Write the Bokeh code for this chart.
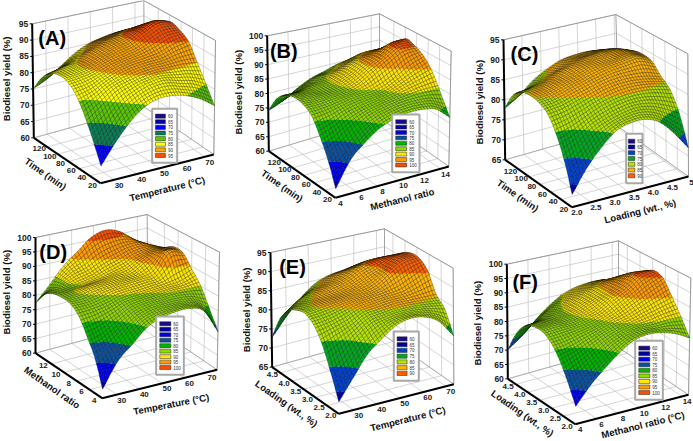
import numpy as np
from bokeh.plotting import figure
from bokeh.models import ColumnDataSource
from bokeh.core.properties import value
from bokeh.embed import file_html
from bokeh.resources import INLINE

# ---- values: yield (%) on a grid, rows = y axis (front to back), cols = x axis (front to back)
Z_A = [[65,71,76,79.5,81,81,80,78,75],
       [71,75,79.5,82,83.5,84,83,82,80],
       [76.5,79.5,82.5,84,85,85.5,85.5,85.5,85],
       [81,82,84,85.5,86.5,87,87.5,89,90],
       [83.5,84,85,86.5,87.5,88.5,90.3,92,92],
       [84,84.5,85.5,87,88.5,89.7,92,94,93],
       [83,84,85,87,88.5,89.8,91,92,91],
       [80,81,83,85,87,88,89,89,88],
       [75,77,80,83,85,86,86.5,86,84]]
Z_B = [[63,71,75.5,79,81,82,82,81,77],
       [70.5,74,78,81,82.5,83.5,84,84,83],
       [76.5,78.5,81,82.5,83.5,84.5,86,87.5,89],
       [81.5,82,83,84,84.5,85.5,88,91,93],
       [83.5,83.5,84,84.5,86,89,92,95,95],
       [84,84,84,85,87,90,92.5,95.5,96],
       [83,83,84,85,87,89.5,91,92,92],
       [80,80,82,84,85,87,89,89,88],
       [74,76,79,81.5,83,84.5,85,85,83]]
Z_C = [[68,73.5,77.5,80.5,81.5,81.5,80,76.5,72],
       [74.5,77,80,81.5,82.5,83,82.5,81,79],
       [79.5,80.5,82,83.5,84.5,85,85,84.5,83.5],
       [83,83.5,84.5,85.5,86.5,87,87,86.5,85.5],
       [84.5,85,86,87,88,88.8,89.2,89.6,88],
       [85,85.5,86.5,87.5,88.8,89.2,89.6,89.7,88.5],
       [84.5,85,86,87.5,88.5,89.3,89.6,89.4,88],
       [82.5,83,84.5,86,87.5,88,88.5,88,86],
       [77.75,80,83,85,86.5,87,87,86,83]]
Z_D = [[63,71,75.5,80,82,83,83,81,73],
       [71,74,78,81.5,83,83.5,83.5,82.5,79],
       [76.5,78,80.5,83,84,84.5,85,85,85],
       [81.5,82,83,84.5,85,85.5,86,87,89],
       [84,84,85,86,86.5,87,88,94,93],
       [84.5,85,86,86.5,87,87.5,90.5,93,93.5],
       [84,84.5,85,86,87.5,89,91,92,91.5],
       [82,84,86.5,88,90.5,92,93,92.5,90],
       [77.3,82.5,88,92,96,97.5,96,92,87]]
Z_E = [[68,73,78,81,83.5,84.5,84,82,77.5],
       [74,77,80.5,83,84,84.5,84.5,84,83],
       [79.5,81,82.5,84.5,85,85.5,85.5,85.5,85.5],
       [83,83.5,84.5,85.5,86,86.5,87,88.5,90.5],
       [84.5,85,85.5,86,86.5,87.5,90,92,92.5],
       [84,85,85.5,86,87,88.5,90,92,92.5],
       [82.5,84,85.5,86.5,87.5,89.5,90.5,91,91],
       [79,82,84,85.5,87,88,89,89,88],
       [72.6,77,81,84,85.5,86,86.5,86,84]]
Z_F = [[65.8,71.5,76,80,83,84,83.5,82,79.5],
       [72,75,78.5,81.5,83.5,84.5,84.5,85,85],
       [77.5,79,81,83,84.5,85.5,87,88.5,90],
       [81.5,82,83,84,85.5,87.5,90,92.5,94.8],
       [83.5,84,84,85,86.5,89.5,92,95.5,96],
       [83.5,84,84.5,85.5,87.5,89.5,92,94.5,94],
       [82,82.5,84,85.5,87.5,89.5,91,92,91],
       [77.5,79,82,84.5,86.5,88,89,89,88],
       [70,73.5,78,82,85,86.5,87,86.5,84]]

TEMP_TICKS = ["30", "40", "50", "60", "70"]
TIME_TICKS = ["20", "40", "60", "80", "100", "120"]
RATIO_TICKS = ["4", "6", "8", "10", "12", "14"]
RATIO_TICKS_Y = ["4", "6", "8", "10", "12"]
LOAD_TICKS_X = ["2.0", "2.5", "3.0", "3.5", "4.0", "4.5", "5"]
LOAD_TICKS_Y = ["2.0", "2.5", "3.0", "3.5", "4.0", "4.5"]
LEG_8 = ["60", "65", "70", "75", "80", "85", "90", "95"]
LEG_9 = ["60", "65", "70", "75", "80", "85", "90", "95", "100"]
LEG_7 = ["60", "65", "70", "75", "80", "85", "90"]
COL_A = ["#1a0a8c", "#00009e", "#0000ff", "#0b7d55", "#58c800", "#ffff00", "#ffa800", "#f85000"]
COL_B = ["#1a0a8c", "#00009e", "#0000f0", "#0a50a0", "#00b400", "#90d800", "#ffe800", "#ff9c00", "#f85000"]
COL_C = ["#1a0a8c", "#0000a8", "#0040d0", "#00a820", "#b4e400", "#ffb400", "#ff6000"]

TITLE_Z = "Biodiesel yield (%)"

# ---- layout, in pixels of the zoomed (3x) panel, offset by the panel's origin
PANELS = [
 dict(name="(A)", off=(0,0), O=(300,548), X=(640,462), Y=(100,412), Xt=(645,120), Yt=(95,70), Bt=(430,0),
      zr=(60,95), zticks=[60,65,70,75,80,85,90,95], Z=Z_A, xr=(24,74), xt=[30,40,50,60,70], xl=TEMP_TICKS,
      yr=(20,145), yt=[20,40,60,80,100,120], yl=TIME_TICKS, xtitle="Temperature (°C)", ytitle="Time (min)",
      xtp=(500,565,14), ytp=(135,520,-35), ztp=(17,235), letter=(155,112), leg=(455,325,530,487),
      labels=LEG_8, cols=COL_A, shift=1),
 dict(name="(B)", off=(230,0), O=(315,592), X=(655,498), Y=(115,452), Xt=(662,152), Yt=(110,106), Bt=(447,40),
      zr=(60,100), zticks=[60,65,70,75,80,85,90,95,100], Z=Z_B, xr=(4,14.8), xt=[4,6,8,10,12,14], xl=RATIO_TICKS,
      yr=(20,145), yt=[20,40,60,80,100,120], yl=TIME_TICKS, xtitle="Methanol ratio", ytitle="Time (min)",
      xtp=(515,596,14), ytp=(155,556,-35), ztp=(23,275), letter=(160,150), leg=(485,342,567,515),
      labels=LEG_9, cols=COL_B, shift=1),
 dict(name="(C)", off=(458,0), O=(340,620), X=(690,528), Y=(140,478), Xt=(688,160), Yt=(135,118), Bt=(472,42),
      zr=(65,95), zticks=[65,70,75,80,85,90,95], Z=Z_C, xr=(2,5.05), xt=[2,2.5,3,3.5,4,4.5,5], xl=LOAD_TICKS_X,
      yr=(20,145), yt=[20,40,60,80,100,120], yl=TIME_TICKS, xtitle="Loading (wt., %)", ytitle="Time (min)",
      xtp=(545,632,14), ytp=(178,585,-35), ztp=(62,305), letter=(198,160), leg=(503,400,552,548),
      labels=LEG_7, cols=COL_C, shift=0),
 dict(name="(D)", off=(0,221), O=(305,530), X=(650,445), Y=(105,395), Xt=(657,92), Yt=(105,48), Bt=(440,-21),
      zr=(60,100), zticks=[60,65,70,75,80,85,90,95,100], Z=Z_D, xr=(23.5,74.5), xt=[30,40,50,60,70], xl=TEMP_TICKS,
      yr=(4,14.5), yt=[4,6,8,10,12], yl=RATIO_TICKS_Y, xtitle="Temperature (°C)", ytitle="Methanol ratio",
      xtp=(512,548,11), ytp=(155,498,-35), ztp=(17,212), letter=(158,92), leg=(467,285,550,460),
      labels=LEG_9, cols=COL_B, shift=1),
 dict(name="(E)", off=(230,221), O=(325,577), X=(670,488), Y=(125,437), Xt=(668,140), Yt=(120,93), Bt=(462,22),
      zr=(65,95), zticks=[65,70,75,80,85,90,95], Z=Z_E, xr=(23.5,73.5), xt=[30,40,50,60,70], xl=TEMP_TICKS,
      yr=(2,4.85), yt=[2,2.5,3,3.5,4,4.5], yl=LOAD_TICKS_Y, xtitle="Temperature (°C)", ytitle="Loading (wt., %)",
      xtp=(532,592,14), ytp=(168,546,-35), ztp=(47,265), letter=(186,136), leg=(490,330,565,478),
      labels=LEG_7, cols=COL_C, shift=0),
 dict(name="(F)", off=(458,221), O=(350,608), X=(690,520), Y=(148,472), Xt=(697,170), Yt=(145,128), Bt=(480,58),
      zr=(60,100), zticks=[60,65,70,75,80,85,90,95,100], Z=Z_F, xr=(4,14.6), xt=[4,6,8,10,12,14], xl=RATIO_TICKS,
      yr=(2,4.85), yt=[2,2.5,3,3.5,4,4.5], yl=LOAD_TICKS_Y, xtitle="Methanol ratio (°C)", ytitle="Loading (wt., %)",
      xtp=(553,610,14), ytp=(192,575,-35), ztp=(58,305), letter=(200,182), leg=(530,358,613,535),
      labels=LEG_9, cols=COL_B, shift=1),
]

MESH = 40


def refine(arr, n):
    """Catmull-Rom resampling of the read grid along axis 0, for drawing the mesh."""
    a = np.asarray(arr, float)
    m = a.shape[0]
    t = np.linspace(0, m - 1, n)
    i = np.minimum(t.astype(int), m - 2)
    f = (t - i)[:, None]
    p1 = a[i]
    p2 = a[i + 1]
    p0 = np.where((i - 1 >= 0)[:, None], a[np.maximum(i - 1, 0)], 2 * a[0] - a[1])
    p3 = np.where((i + 2 < m)[:, None], a[np.minimum(i + 2, m - 1)], 2 * a[-1] - a[-2])
    return 0.5 * (2 * p1 + (p2 - p0) * f + (2 * p0 - 5 * p1 + 4 * p2 - p3) * f ** 2 + (3 * p1 - p0 - 3 * p2 + p3) * f ** 3)


def clip(poly, lo, hi):
    def cut(pts, keep, at):
        out = []
        for k in range(len(pts)):
            a, b = pts[k], pts[(k + 1) % len(pts)]
            ka, kb = keep(a[2]), keep(b[2])
            if ka:
                out.append(a)
            if ka != kb:
                s = (at - a[2]) / (b[2] - a[2])
                out.append((a[0] + s * (b[0] - a[0]), a[1] + s * (b[1] - a[1]), at))
        return out
    pts = cut(poly, lambda z: z >= lo, lo)
    if pts:
        pts = cut(pts, lambda z: z <= hi, hi)
    return pts


p = figure(width=693, height=441, x_range=(0, 693), y_range=(441, 0), toolbar_location=None,
           output_backend="svg", min_border=0, outline_line_color=None, background_fill_color="white")
p.axis.visible = False
p.grid.visible = False

gx, gy, gc, gw = [], [], [], []   # wall lines and axes
sf = dict(xs=[], ys=[], fc=[], fa=[], lc=[], la=[], lw=[])
lq = dict(xs=[], ys=[], fc=[], lc=[], lw=[])
texts = {}


def add_text(key, x, y, t, angle=0.0):
    d = texts.setdefault(key, dict(x=[], y=[], t=[], a=[]))
    d["x"].append(x); d["y"].append(y); d["t"].append(t); d["a"].append(np.deg2rad(angle))


for P in PANELS:
    off = np.array(P["off"], float)
    zp = lambda q: off + np.array(q, float) / 3
    O, X, Y, Xt, Yt, Bt = [zp(P[k]) for k in ("O", "X", "Y", "Xt", "Yt", "Bt")]
    B = X + Y - O + np.array([-8, -6]) / 3
    Ot = Xt + Yt - Bt

    def proj(u, v, w):
        u = np.asarray(u, float); v = np.asarray(v, float); w = np.asarray(w, float)
        base = lambda a, b, c, d, i: (a[i] * (1 - u) * (1 - v) + b[i] * u * (1 - v) + c[i] * (1 - u) * v + d[i] * u * v)
        bx, by = base(O, X, Y, B, 0), base(O, X, Y, B, 1)
        tx, ty = base(Ot, Xt, Yt, Bt, 0), base(Ot, Xt, Yt, Bt, 1)
        return bx + (tx - bx) * w, by + (ty - by) * w

    z0, z1 = P["zr"]
    W = lambda z: (np.asarray(z, float) - z0) / (z1 - z0)
    U = lambda t: (t - P["xr"][0]) / (P["xr"][1] - P["xr"][0])
    V = lambda t: (t - P["yr"][0]) / (P["yr"][1] - P["yr"][0])

    def line(a, b, c="#b9b9b9", w=0.6):
        x, y = proj(*a); x2, y2 = proj(*b)
        gx.append([float(x), float(x2)]); gy.append([float(y), float(y2)]); gc.append(c); gw.append(w)

    # walls and floor grid
    for z in P["zticks"]:
        line((0, 1, W(z)), (1, 1, W(z)))
        line((1, 0, W(z)), (1, 1, W(z)))
    for t in P["xt"]:
        u = U(t)
        line((u, 0, 0), (u, 1, 0))
        line((u, 1, 0), (u, 1, 1))
    for t in P["yt"]:
        v = V(t)
        line((0, v, 0), (1, v, 0))
        line((1, v, 0), (1, v, 1))
    line((0, 1, 1), (1, 1, 1), "#8c8c8c", 0.8)
    line((1, 0, 1), (1, 1, 1), "#8c8c8c", 0.8)
    line((1, 0, 0), (1, 0, 1), "#8c8c8c", 0.8)
    line((1, 1, 0), (1, 1, 1), "#8c8c8c", 0.8)
    line((0, 1, 0), (1, 1, 0), "#9c9c9c", 0.7)
    line((1, 0, 0), (1, 1, 0), "#9c9c9c", 0.7)

    # black axes with their ticks and labels
    line((0, 0, 0), (1, 0, 0), "#000000", 2)
    line((0, 0, 0), (0, 1, 0), "#000000", 2)
    line((0, 1, 0), (0, 1, 1), "#000000", 2)
    for z in P["zticks"]:
        x, y = proj(0, 1, W(z))
        gx.append([float(x) - 2.5, float(x)]); gy.append([float(y), float(y)]); gc.append("#000000"); gw.append(1)
        add_text("ztick", float(x) - 4, float(y), str(z))
    for t, s in zip(P["xt"], P["xl"]):
        x, y = proj(U(t), 0, 0)
        add_text("tick", float(x) + 5, float(y) + 5.5, s)
    for t, s in zip(P["yt"], P["yl"]):
        x, y = proj(0, V(t), 0)
        add_text("tick", float(x) - 8, float(y) + 2, s)

    # surface
    zf = refine(refine(np.array(P["Z"], float), MESH + 1).T, MESH + 1).T
    uu = np.linspace(0, 1, MESH + 1)
    vv = np.linspace(0, 1, MESH + 1)
    cells = sorted(((i, j) for i in range(MESH) for j in range(MESH)), key=lambda c: -(c[0] + c[1]))
    cols = P["cols"]
    def band(z):
        return int(min(len(cols) - 1, max(0, np.floor((z - 60) / 5) + P["shift"])))
    for i, j in cells:
        q = [(uu[j], vv[i], zf[i, j]), (uu[j + 1], vv[i], zf[i, j + 1]),
             (uu[j + 1], vv[i + 1], zf[i + 1, j + 1]), (uu[j], vv[i + 1], zf[i + 1, j])]
        zs = [c[2] for c in q]
        blo, bhi = np.floor((min(zs) - 60) / 5), np.floor((max(zs) - 60) / 5)
        def pr(pts):
            a = np.array(pts)
            x, y = proj(a[:, 0], a[:, 1], W(a[:, 2]))
            return x.tolist(), y.tolist()
        qx, qy = pr(q)
        if blo == bhi:
            sf["xs"].append(qx); sf["ys"].append(qy); sf["fc"].append(cols[band(zs[0])]); sf["fa"].append(1.0)
            sf["lc"].append("#000000"); sf["la"].append(0.7); sf["lw"].append(0.4)
        else:
            for b in range(int(blo), int(bhi) + 1):
                lo, hi = 60 + 5 * b, 60 + 5 * (b + 1)
                pts = clip(q, lo, hi)
                if len(pts) >= 3:
                    x, y = pr(pts)
                    c = cols[band(lo + 1)]
                    sf["xs"].append(x); sf["ys"].append(y); sf["fc"].append(c); sf["fa"].append(1.0)
                    sf["lc"].append(c); sf["la"].append(1.0); sf["lw"].append(0.25)
            sf["xs"].append(qx); sf["ys"].append(qy); sf["fc"].append("#000000"); sf["fa"].append(0.0)
            sf["lc"].append("#000000"); sf["la"].append(0.7); sf["lw"].append(0.4)

    # legend box
    x0, y0 = zp(P["leg"][:2]); x1, y1 = zp(P["leg"][2:])
    lq["xs"].append([x0, x1, x1, x0]); lq["ys"].append([y0, y0, y1, y1])
    lq["fc"].append("white"); lq["lc"].append("#a8a8a8"); lq["lw"].append(2)
    n = len(P["labels"])
    step = (y1 - y0 - 9) / n
    w = (x1 - x0)
    for k, (lab, col) in enumerate(zip(P["labels"], cols)):
        yc = y0 + 4.5 + step * (k + 0.5)
        sx0, sx1 = x0 + w * 0.13, x0 + w * 0.53
        lq["xs"].append([sx0, sx1, sx1, sx0]); lq["ys"].append([yc - step * 0.36, yc - step * 0.36, yc + step * 0.36, yc + step * 0.36])
        lq["fc"].append(col); lq["lc"].append("#222222"); lq["lw"].append(0.5)
        add_text("leg", sx1 + 2.5, yc, lab)

    # titles
    a = P["xtp"]; c = zp(a[:2]); add_text("title", c[0], c[1], P["xtitle"], a[2])
    a = P["ytp"]; c = zp(a[:2]); add_text("title", c[0], c[1], P["ytitle"], a[2])
    c = zp(P["ztp"]); add_text("title", c[0], c[1], TITLE_Z, 90)
    c = zp(P["letter"]); add_text("letter", c[0], c[1], P["name"])

p.multi_line(gx, gy, line_color=gc, line_width=gw)
p.patches("xs", "ys", source=ColumnDataSource(sf), fill_color="fc", fill_alpha="fa",
          line_color="lc", line_alpha="la", line_width="lw")
p.patches("xs", "ys", source=ColumnDataSource(lq), fill_color="fc", line_color="lc", line_width="lw")

STY = dict(
    ztick=dict(text_font_size="8.5px", text_align="right", text_font_style="bold", text_color="#222222"),
    tick=dict(text_font_size="8px", text_align="center", text_font_style="bold", text_color="#222222"),
    leg=dict(text_font_size="4.5px", text_align="left", text_font_style="normal", text_color="#333333"),
    title=dict(text_font_size="9.6px", text_align="center", text_font_style="bold", text_color="#111111"),
    letter=dict(text_font_size="20px", text_align="center", text_font_style="bold", text_color="#000000"),
)
for key, d in texts.items():
    p.text("x", "y", text="t", angle="a", source=ColumnDataSource(d), text_baseline="middle",
           text_font=value("Liberation Sans"), **STY[key])

open("out.html", "w").write(file_html(p, INLINE))
